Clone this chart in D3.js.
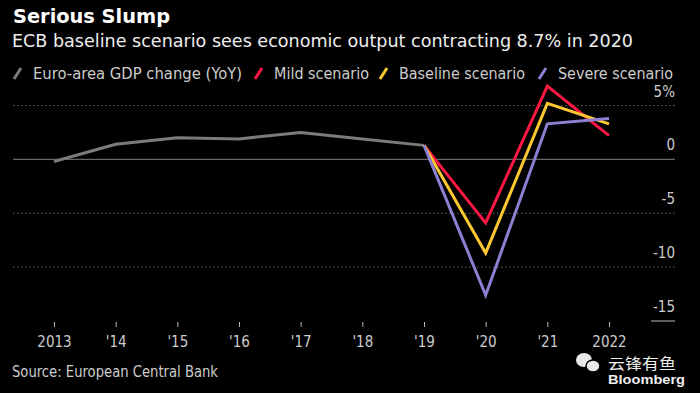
<!DOCTYPE html>
<html><head><meta charset="utf-8">
<script src="https://cdn.jsdelivr.net/npm/d3@7"></script>
<style>body{margin:0;background:#000;}svg{display:block;}</style>
</head><body><svg id="c" width="700" height="393"></svg>
<script>
const years = [2013,2014,2015,2016,2017,2018,2019,2020,2021,2022];
const tickLabels = ["2013","'14","'15","'16","'17","'18","'19","'20","'21","2022"];
const gdpYears = [2013,2014,2015,2016,2017,2018,2019];
const gdpValues = [-0.2,1.4,2.0,1.9,2.5,1.9,1.3];
const scenarioYears = [2019,2020,2021,2022];
const mildValues = [1.3,-5.9,6.8,2.2];
const baselineValues = [1.3,-8.7,5.2,3.3];
const severeValues = [1.3,-12.6,3.3,3.8];
const yTicks = [5,0,-5,-10,-15];
const seriesNames = ["Euro-area GDP change (YoY)","Mild scenario","Baseline scenario","Severe scenario"];
const seriesColors = ["#7b7b7b","#ff1744","#fdc82f","#8b80d2"];

const svg = d3.select("#c");
const font = "'DejaVu Sans Condensed','Liberation Sans Narrow',sans-serif";
svg.append("rect").attr("width",700).attr("height",393).attr("fill","#000");

const x = d3.scaleLinear().domain([2013,2022]).range([54,609]);
const y = d3.scaleLinear().domain([-15,5]).range([321,105.5]);

// title
svg.append("text").attr("x",13).attr("y",23).attr("fill","#fff").attr("font-family",font)
  .attr("font-weight","bold").attr("font-size",20).attr("textLength",157).attr("lengthAdjust","spacingAndGlyphs").text("Serious Slump");
svg.append("text").attr("x",12).attr("y",47).attr("fill","#eee").attr("font-family",font)
  .attr("font-size",18).attr("textLength",621).attr("lengthAdjust","spacingAndGlyphs")
  .text("ECB baseline scenario sees economic output contracting 8.7% in 2020");

// legend
const legX = [14,255,380,539];
const legW = [209,95,126,115];
seriesNames.forEach((n,i)=>{
  svg.append("line").attr("x1",legX[i]).attr("y1",79).attr("x2",legX[i]+7).attr("y2",68)
    .attr("stroke",seriesColors[i]).attr("stroke-width",3);
  svg.append("text").attr("x",legX[i]+19).attr("y",79).attr("fill","#ccc").attr("font-family",font)
    .attr("font-size",15).attr("textLength",legW[i]).attr("lengthAdjust","spacingAndGlyphs").text(n);
});

// gridlines
yTicks.forEach(t=>{
  if (t===0) {
    svg.append("line").attr("x1",13).attr("x2",675).attr("y1",y(0)).attr("y2",y(0)).attr("stroke","#666").attr("stroke-width",1.2);
  } else if (t===-15) {
    svg.append("line").attr("x1",651).attr("x2",675).attr("y1",y(t)).attr("y2",y(t)).attr("stroke","#bbb").attr("stroke-width",1);
  } else {
    svg.append("line").attr("x1",13).attr("x2",675).attr("y1",y(t)).attr("y2",y(t))
      .attr("stroke","#666").attr("stroke-width",1).attr("stroke-dasharray","1.5,2.5");
  }
  svg.append("text").attr("x",675).attr("y",y(t)-9).attr("text-anchor","end").attr("fill","#ccc")
    .attr("font-family",font).attr("font-size",15).text(t===5?"5%":String(t));
});

// x axis
const xAxis = d3.axisBottom(x).tickValues(years).tickSize(5).tickFormat((d,i)=>tickLabels[i]);
const gx = svg.append("g").attr("transform","translate(0,322)").call(xAxis);
gx.select(".domain").remove();
gx.selectAll(".tick line").attr("stroke","#bbb");
gx.selectAll(".tick text").attr("fill","#ccc").attr("font-family",font).attr("font-size",15).attr("dy","1.1em");

// lines
const line = d3.line().x(d=>x(d[0])).y(d=>y(d[1]));
const series = [
  gdpYears.map((yr,i)=>[yr,gdpValues[i]]),
  scenarioYears.map((yr,i)=>[yr,mildValues[i]]),
  scenarioYears.map((yr,i)=>[yr,baselineValues[i]]),
  scenarioYears.map((yr,i)=>[yr,severeValues[i]])
];
series.forEach((s,i)=>{
  svg.append("path").datum(s).attr("d",line).attr("fill","none").attr("stroke",seriesColors[i])
    .attr("stroke-width",3).attr("stroke-linejoin","miter");
});

// source
svg.append("text").attr("x",12).attr("y",377).attr("fill","#ccc").attr("font-family",font)
  .attr("font-size",15).attr("textLength",206).attr("lengthAdjust","spacingAndGlyphs").text("Source: European Central Bank");

// watermark
const wm = svg.append("g");
wm.append("ellipse").attr("cx",584).attr("cy",360).attr("rx",8).attr("ry",7).attr("fill","#e8e8e8");
wm.append("ellipse").attr("cx",593).attr("cy",366).attr("rx",7).attr("ry",6).attr("fill","#e8e8e8").attr("stroke","#000").attr("stroke-width",1.5);
wm.append("text").attr("x",608).attr("y",369).attr("fill","#eee").attr("font-family","'Noto Sans CJK SC',sans-serif")
  .attr("font-size",15).attr("textLength",68).attr("lengthAdjust","spacingAndGlyphs").text("云锋有鱼");
wm.append("text").attr("x",608).attr("y",384).attr("fill","#eee").attr("font-family","'Liberation Sans',Arial,sans-serif")
  .attr("font-weight","bold").attr("font-size",13).attr("textLength",77).attr("lengthAdjust","spacingAndGlyphs").text("Bloomberg");
</script></body></html>
